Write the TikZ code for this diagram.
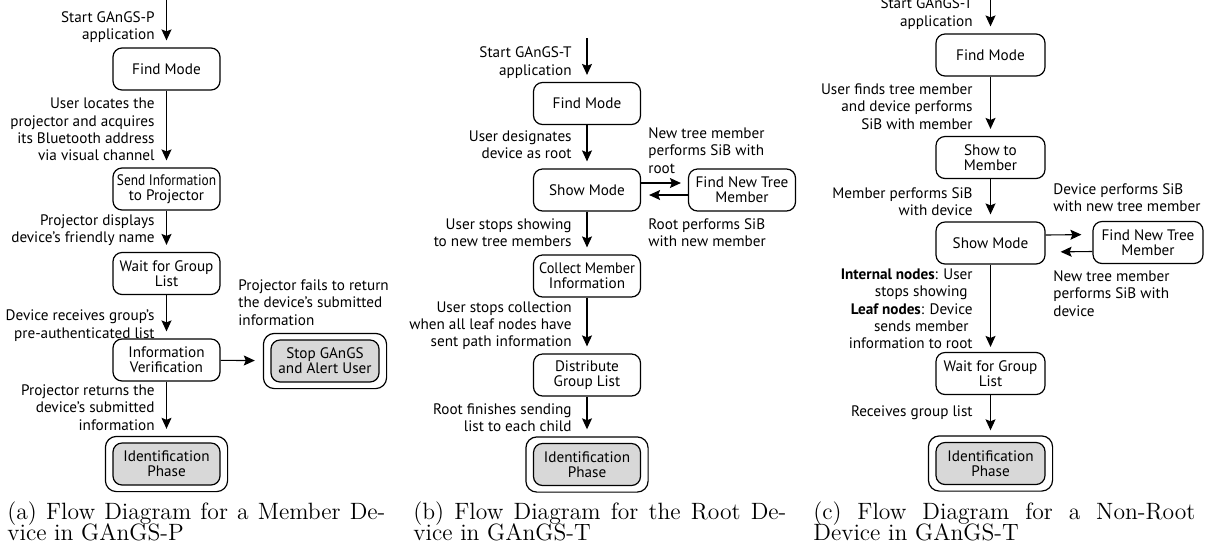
\documentclass[tikz,border=0pt]{standalone}
\usepackage{graphicx}
\usepackage{fontspec}
\newfontfamily\sfb{PT Sans}
\usetikzlibrary{arrows.meta,fit}
\definecolor{boxgray}{HTML}{D8D8D8}
\newcommand\myboxfont{\sfb\fontsize{7.6}{7.4}\selectfont}
\newcommand\mylabfont{\sfb\fontsize{7.6}{8.65}\selectfont}
\newcommand\mycapfont{\rmfamily\fontsize{11.8}{10.5}\selectfont}
\begin{document}
\begin{tikzpicture}[x=0.5pt,y=-0.5pt,
  box/.style={draw=black, line width=0.6pt, rounded corners=4.5pt, minimum width=53.5pt, minimum height=21pt, inner sep=0pt, align=center, font=\myboxfont, text=black},
  endbox/.style={box, fill=boxgray},
  outerbox/.style={draw=black, line width=0.6pt, rounded corners=5.5pt, inner xsep=3.5pt, inner ysep=3pt},
  lab/.style={font=\mylabfont, inner sep=0pt, text=black},
  labr/.style={lab, anchor=east, align=right},
  labl/.style={lab, anchor=west, align=left},
  arr/.style={-{Stealth[length=5.5pt,width=5pt,inset=1pt]}, line width=0.55pt, shorten >=3.5pt},
  captext/.style={font=\mycapfont, inner sep=0pt, anchor=base west}
]
\useasboundingbox (0,0) rectangle (1215,553);

% ---------------- (a) ----------------
\coordinate (a0) at (166.5,0);
\node[box] (a1) at (166.5,69) {Find Mode};
\node[box] (a2) at (166.5,189) {\scalebox{0.88}[1]{Send Information}\\to Projector};
\node[box] (a3) at (166.5,273.5) {Wait for Group\\List};
\node[box] (a4) at (166.5,360) {Information\\Verification};
\node[endbox] (a5) at (166.5,464) {Identification\\Phase};
\node[outerbox, fit=(a5)] (a5o) {};
\node[endbox, minimum width=54pt] (a6) at (325,361) {Stop GAnGS\\and Alert User};
\node[outerbox, fit=(a6)] (a6o) {};

\draw[arr] (a0) -- (a1);
\draw[arr] (a1) -- (a2);
\draw[arr] (a2) -- (a3);
\draw[arr] (a3) -- (a4);
\draw[arr] (a4) -- (a5o);
\draw[arr, shorten >=4pt] (a4) -- (a6o);

\node[labr] (la1) at (155,27) {Start GAnGS-P\\application};
\node[labr] (la2) at (155,129.5) {User locates the\\projector and acquires\\its Bluetooth address\\via visual channel};
\node[labr] (la3) at (155,230.5) {Projector displays\\device’s friendly name};
\node[labr] (la4) at (155,325.5) {Device receives group’s\\pre-authenticated list};
\node[labr] (la5) at (155,407.5) {Projector returns the\\device’s submitted\\information};
\node[labl] (la6) at (238,302.5) {Projector fails to return\\the device’s submitted\\information};

\node[captext] (ca1) at (7,519) {\makebox[189pt][s]{(a) Flow Diagram for a Member De-}};
\node[captext] (ca2) at (7,540) {vice in GAnGS-P};

% ---------------- (b) ----------------
\coordinate (b0) at (587,38);
\node[box] (b1) at (587,103.5) {Find Mode};
\node[box] (b2) at (587,190) {Show Mode};
\node[box] (b3) at (742,190) {Find New Tree\\Member};
\node[box] (b4) at (587,276) {\scalebox{0.94}[1]{Collect Member}\\Information};
\node[box] (b5) at (587,375) {Distribute\\Group List};
\node[endbox] (b6) at (587,464.5) {Identification\\Phase};
\node[outerbox, fit=(b6)] (b6o) {};

\draw[arr] (b0) -- (b1);
\draw[arr] (b1) -- (b2);
\draw[arr] (b2) -- (b4);
\draw[arr] (b4) -- (b5);
\draw[arr] (b5) -- (b6o);
\draw[arr] ([yshift=3.5pt]b2.east) -- ([yshift=3.5pt]b3.west);
\draw[arr, shorten >=4pt] ([yshift=-2.5pt]b3.west) -- ([yshift=-2.5pt]b2.east);

\node[labr] (lb1) at (572,62.5) {Start GAnGS-T\\application};
\node[labr] (lb2) at (572,144.5) {User designates\\device as root};
\node[labr] (lb3) at (572,232.5) {User stops showing\\to new tree members};
\node[labr] (lb4) at (572,325.5) {User stops collection\\when all leaf nodes have\\sent path information};
\node[labr] (lb5) at (572,417.5) {Root finishes sending\\list to each child};
\node[labl] (lb6) at (648,150.5) {New tree member\\performs SiB with\\root};
\node[labl] (lb7) at (648,233) {Root performs SiB\\with new member};

\node[captext] (cb1) at (413,519) {\makebox[186.5pt][s]{(b) Flow Diagram for the Root De-}};
\node[captext] (cb2) at (413,540) {vice in GAnGS-T};

% ---------------- (c) ----------------
\coordinate (c0) at (990.5,0);
\node[box, minimum width=54.5pt] (c1) at (990.5,55) {Find Mode};
\node[box, minimum width=54.5pt] (c2) at (990.5,157.5) {Show to\\Member};
\node[box, minimum width=54.5pt] (c3) at (990.5,243) {Show Mode};
\node[box, minimum width=55pt] (c4) at (1148,242.5) {Find New Tree\\Member};
\node[box, minimum width=54.5pt] (c5) at (990.5,373.5) {Wait for Group\\List};
\node[endbox, minimum width=54.5pt] (c6) at (990.5,463.5) {Identification\\Phase};
\node[outerbox, fit=(c6)] (c6o) {};

\draw[arr] (c0) -- (c1);
\draw[arr] (c1) -- (c2);
\draw[arr] (c2) -- (c3);
\draw[arr, shorten >=2.5pt] (c3) -- (c5);
\draw[arr, shorten >=2.5pt] (c5) -- (c6o);
\draw[arr, shorten >=5.5pt] ([yshift=4pt]c3.east) -- ([yshift=4pt]c4.west);
\draw[arr, shorten >=7.5pt] ([yshift=-4.5pt]c4.west) -- ([yshift=-4.5pt]c3.east);

\node[labr] (lc1) at (973,13.5) {Start GAnGS-T\\application};
\node[labr] (lc2) at (973,106.5) {User finds tree member\\and device performs\\SiB with member};
\node[labr] (lc3) at (973,201.5) {Member performs SiB\\with device};
\node[labr] (lc4) at (973,309) {\textbf{Internal nodes}: User\\stops showing\kern2.5pt\\\textbf{Leaf nodes}: Device\\sends member\kern2pt\\information to root};
\node[labr] (lc5) at (973,413) {Receives group list};
\node[labl] (lc6) at (1053,197.5) {Device performs SiB\\with new tree member};
\node[labl] (lc7) at (1053,293.5) {New tree member\\performs SiB with\\device};

\node[captext] (cc1) at (813,519) {\makebox[191pt][s]{(c) Flow Diagram for a Non-Root}};
\node[captext] (cc2) at (813,540) {Device in GAnGS-T};
\end{tikzpicture}
\end{document}
